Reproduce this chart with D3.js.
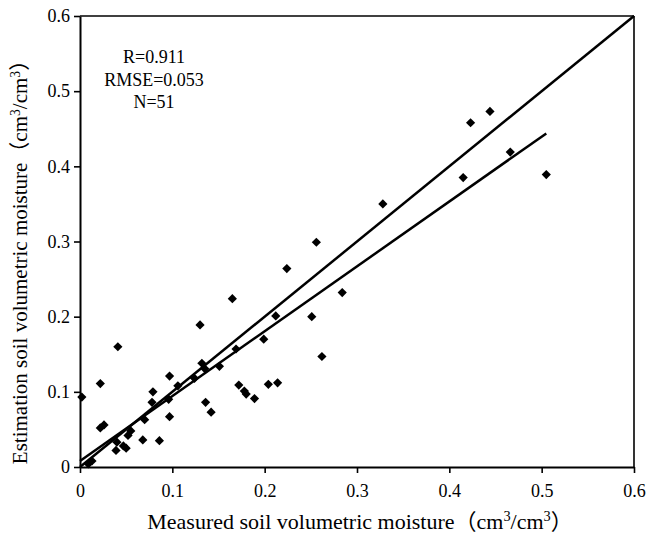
<!DOCTYPE html>
<html><head><meta charset="utf-8">
<script src="https://cdn.jsdelivr.net/npm/d3@7"></script>
<style>body{margin:0;background:#fff}svg{display:block}</style>
</head><body>
<script>
// Data
const measured = [0.002,0.009,0.013,0.022,0.022,0.026,0.039,0.040,0.041,0.047,0.050,0.052,0.055,0.068,0.070,0.078,0.079,0.086,0.097,0.096,0.097,0.106,0.124,0.130,0.132,0.135,0.136,0.142,0.151,0.165,0.169,0.172,0.178,0.180,0.189,0.199,0.204,0.214,0.212,0.224,0.251,0.256,0.262,0.284,0.328,0.415,0.423,0.444,0.466,0.505];
const estimated = [0.093,0.004,0.008,0.111,0.052,0.056,0.022,0.033,0.160,0.028,0.025,0.042,0.048,0.036,0.063,0.086,0.100,0.035,0.067,0.090,0.121,0.108,0.118,0.189,0.138,0.131,0.086,0.073,0.134,0.224,0.157,0.109,0.101,0.097,0.091,0.170,0.110,0.112,0.201,0.264,0.200,0.299,0.147,0.232,0.350,0.385,0.458,0.473,0.419,0.389];
const tickValues = [0,0.1,0.2,0.3,0.4,0.5,0.6];
const tickLabels = ["0","0.1","0.2","0.3","0.4","0.5","0.6"];
const fitSlope = 0.863, fitIntercept = 0.008, fitRange = [0, 0.505];
const oneToOne = [0, 0.6];
const statsText = ["R=0.911","RMSE=0.053","N=51"];

const W=649,H=537;
const svg=d3.select("body").append("svg").attr("width",W).attr("height",H);
const x=d3.scaleLinear().domain([0,0.6]).range([80,634]);
const y=d3.scaleLinear().domain([0,0.6]).range([467,16]);
const font='"Liberation Serif","Times New Roman",serif';

// frame top/right
svg.append("line").attr("x1",x(0)).attr("x2",x(0.6)).attr("y1",y(0.6)).attr("y2",y(0.6)).attr("stroke","#000").attr("stroke-width",1.6);
svg.append("line").attr("x1",x(0.6)).attr("x2",x(0.6)).attr("y1",y(0.6)).attr("y2",y(0)).attr("stroke","#000").attr("stroke-width",1.6);

const fmt=(d)=>tickLabels[tickValues.indexOf(d)];
const gx=svg.append("g").attr("transform",`translate(0,${y(0)})`)
  .call(d3.axisBottom(x).tickValues(tickValues).tickFormat(fmt).tickSize(6).tickSizeOuter(0));
const gy=svg.append("g").attr("transform",`translate(${x(0)},0)`)
  .call(d3.axisLeft(y).tickValues(tickValues).tickFormat(fmt).tickSize(6).tickSizeOuter(0));
[gx,gy].forEach(g=>{
  g.select(".domain").attr("stroke","#000").attr("stroke-width",2);
  g.selectAll(".tick line").attr("stroke","#000").attr("stroke-width",1.6);
  g.selectAll("text").attr("font-family",font).attr("font-size",18).attr("fill","#000");
});
gx.selectAll("text").attr("dy","0").attr("y",30);
gy.selectAll("text").attr("x",-10);

// 1:1 line
svg.append("line").attr("x1",x(oneToOne[0])).attr("y1",y(oneToOne[0])).attr("x2",x(oneToOne[1])).attr("y2",y(oneToOne[1]))
  .attr("stroke","#000").attr("stroke-width",2.5);
// fit line
svg.append("line").attr("x1",x(fitRange[0])).attr("y1",y(fitSlope*fitRange[0]+fitIntercept))
  .attr("x2",x(fitRange[1])).attr("y2",y(fitSlope*fitRange[1]+fitIntercept))
  .attr("stroke","#000").attr("stroke-width",2.5);

// points
const pts=measured.map((m,i)=>[m,estimated[i]]);
const r=4.6;
svg.append("g").selectAll("path").data(pts).join("path")
  .attr("d",d=>{const cx=x(d[0]),cy=y(d[1]);return `M${cx},${cy-r}L${cx+r},${cy}L${cx},${cy+r}L${cx-r},${cy}Z`;})
  .attr("fill","#000");

// stats
svg.append("g").selectAll("text").data(statsText).join("text")
  .attr("x",154).attr("y",(d,i)=>63+i*22.5).attr("text-anchor","middle")
  .attr("font-family",font).attr("font-size",18).text(d=>d);

// axis titles
function title(t, label, fs){
  t.attr("font-family",font+',"Noto Sans CJK SC"').attr("font-size",fs).attr("text-anchor","middle").attr("fill","#000");
  t.append("tspan").text(label+"（cm");
  t.append("tspan").attr("baseline-shift","super").attr("font-size",fs*0.65).text("3");
  t.append("tspan").text("/cm");
  t.append("tspan").attr("baseline-shift","super").attr("font-size",fs*0.65).text("3");
  t.append("tspan").text("）");
}
title(svg.append("text").attr("x",360).attr("y",529),"Measured soil volumetric moisture",22);
title(svg.append("text").attr("transform","translate(27,257) rotate(-90)"),"Estimation soil volumetric moisture",21);
</script>
</body></html>
